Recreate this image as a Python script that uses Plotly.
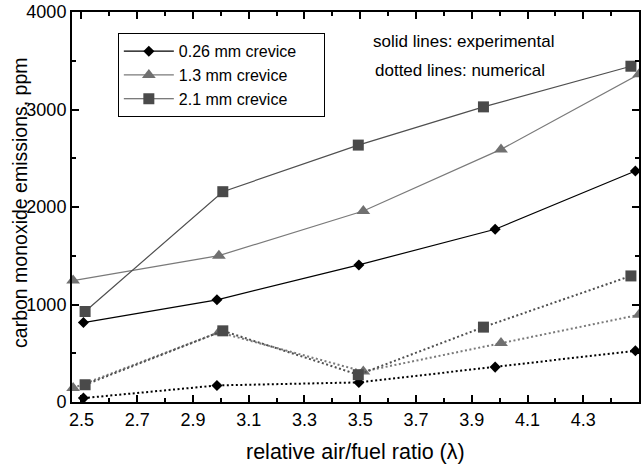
import plotly.graph_objects as go

# ---- data ----
labels = ["0.26 mm crevice", "1.3 mm crevice", "2.1 mm crevice"]

x_026 = [2.507, 2.986, 3.495, 3.984, 4.487]
exp_026 = [815, 1048, 1406, 1772, 2369]
num_026 = [40, 170, 201, 358, 525]

x_13 = [2.47, 2.993, 3.511, 4.005, 4.50]
exp_13 = [1245, 1501, 1959, 2591, 3362]
num_13 = [143, 715, 313, 604, 894]

x_21 = [2.513, 3.007, 3.493, 3.942, 4.471]
exp_21 = [928, 2157, 2635, 3027, 3444]
num_21 = [177, 730, 280, 768, 1293]

x_ticks = [2.5, 2.7, 2.9, 3.1, 3.3, 3.5, 3.7, 3.9, 4.1, 4.3]
y_ticks = [0, 1000, 2000, 3000, 4000]

FONT = "Liberation Sans, Arial, Helvetica, sans-serif"

styles = [
    dict(line="#000000", marker="#000000", symbol="diamond", size=8.5),
    dict(line="#7a7a7a", marker="#707070", symbol="triangle-up", size=12),
    dict(line="#4f4f4f", marker="#4a4a4a", symbol="square", size=11),
]
series = [
    (x_026, exp_026, num_026),
    (x_13, exp_13, num_13),
    (x_21, exp_21, num_21),
]

fig = go.Figure()
# numerical (dotted) first, experimental (solid) on top
for (xs, ye, yn), st, name in zip(series, styles, labels):
    fig.add_trace(go.Scatter(
        x=xs, y=yn, mode="lines+markers", showlegend=False, cliponaxis=False,
        line=dict(color=st["line"], width=2, dash="2px,2.5px"),
        marker=dict(symbol=st["symbol"], size=st["size"], color=st["marker"]),
    ))
for (xs, ye, yn), st, name in zip(series, styles, labels):
    fig.add_trace(go.Scatter(
        x=xs, y=ye, mode="lines+markers", name=name + "\u00a0\u00a0\u00a0\u00a0\u00a0", cliponaxis=False,
        line=dict(color=st["line"], width=1.2),
        marker=dict(symbol=st["symbol"], size=st["size"], color=st["marker"]),
    ))

axis_common = dict(
    showline=True, linecolor="black", linewidth=2, mirror="allticks",
    ticks="inside", ticklen=7, tickwidth=1.5, tickcolor="black",
    showgrid=False, zeroline=False,
    tickfont=dict(family=FONT, size=18, color="black"),
)
fig.update_xaxes(
    range=[2.466, 4.5], tickmode="array", tickvals=x_ticks,
    ticktext=[f"{v:.1f}" for v in x_ticks],
    minor=dict(dtick=0.1, tick0=2.5, ticks="inside", ticklen=4, tickcolor="black"),
    **axis_common,
)
fig.update_yaxes(
    range=[0, 4000], tickmode="array", tickvals=y_ticks,
    ticktext=[str(v) for v in y_ticks],
    minor=dict(dtick=500, tick0=0, ticks="inside", ticklen=4, tickcolor="black"),
    **axis_common,
)

fig.add_annotation(text="carbon monoxide emissions, ppm", xref="paper", yref="paper",
                   x=-0.092, y=0.51, xanchor="center", yanchor="middle",
                   textangle=-90, showarrow=False,
                   font=dict(family=FONT, size=19.5, color="black"))
fig.add_annotation(text="relative air/fuel ratio (λ)", xref="paper", yref="paper",
                   x=0.5, y=-0.127, xanchor="center", yanchor="middle",
                   showarrow=False, font=dict(family=FONT, size=21.5, color="black"))
fig.add_annotation(text="solid lines: experimental", xref="paper", yref="paper",
                   x=(464.7 - 72) / 569, y=(402.3 - 41) / 390.6,
                   xanchor="center", yanchor="middle", showarrow=False,
                   font=dict(family=FONT, size=17, color="black"))
fig.add_annotation(text="dotted lines: numerical", xref="paper", yref="paper",
                   x=(461.7 - 72) / 569, y=(402.3 - 70) / 390.6,
                   xanchor="center", yanchor="middle", showarrow=False,
                   font=dict(family=FONT, size=17, color="black"))

fig.update_layout(
    width=641, height=465,
    margin=dict(l=72, r=0, t=12, b=63),
    paper_bgcolor="white", plot_bgcolor="white",
    font=dict(family=FONT, color="black"),
    showlegend=True,
    legend=dict(x=(118 - 72) / 569, y=(402.3 - 33) / 390.6, xanchor="left", yanchor="top",
                bgcolor="white", bordercolor="black", borderwidth=1,
                font=dict(family=FONT, size=16, color="black"),
                itemwidth=50, tracegroupgap=0),
)

fig.write_html("out.html", config={"displayModeBar": False},
               post_script="document.body.style.margin='0px';")
